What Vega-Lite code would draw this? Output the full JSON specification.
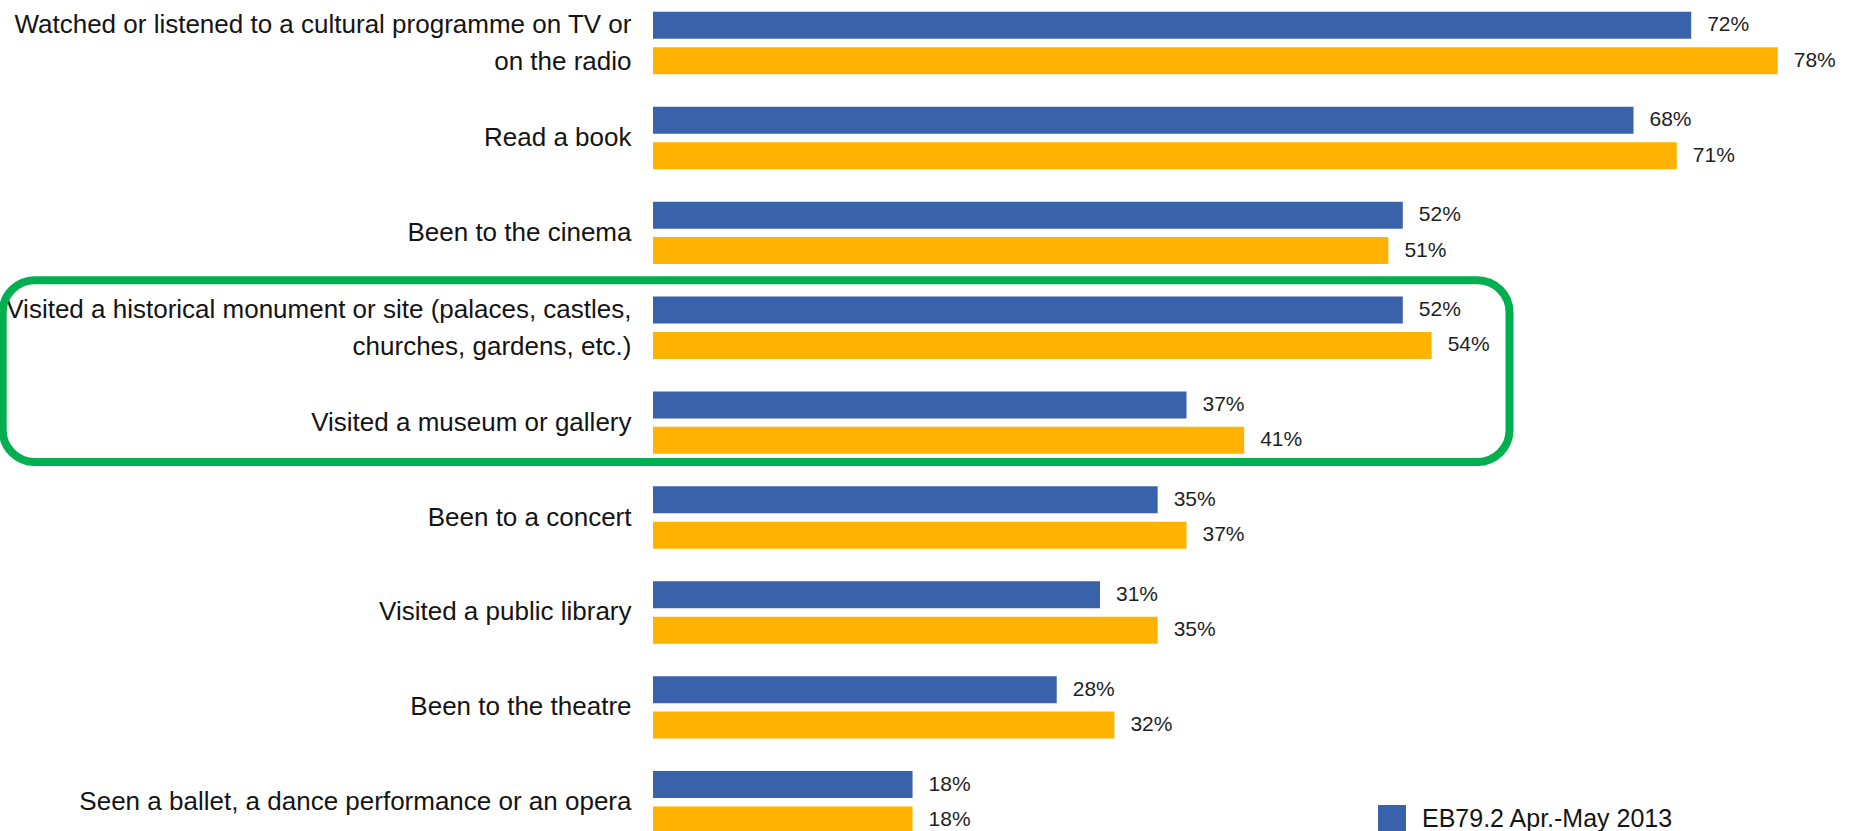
{
  "$schema": "https://vega.github.io/schema/vega-lite/v6.json",
  "autosize": {"type": "none"},
  "padding": {"left": 653, "top": 0, "right": 0, "bottom": 0},
  "width": 1203,
  "height": 831,
  "background": "white",
  "config": {"view": {"stroke": null}, "font": "Liberation Sans"},
  "datasets": {
    "bars": [
      {"activity": "Watched or listened to a cultural programme on TV or|on the radio", "survey": "EB79.2 Apr.-May 2013", "value": 0.72},
      {"activity": "Watched or listened to a cultural programme on TV or|on the radio", "survey": "EB67.1 Feb.-Mar. 2007", "value": 0.78},
      {"activity": "Read a book", "survey": "EB79.2 Apr.-May 2013", "value": 0.68},
      {"activity": "Read a book", "survey": "EB67.1 Feb.-Mar. 2007", "value": 0.71},
      {"activity": "Been to the cinema", "survey": "EB79.2 Apr.-May 2013", "value": 0.52},
      {"activity": "Been to the cinema", "survey": "EB67.1 Feb.-Mar. 2007", "value": 0.51},
      {"activity": "Visited a historical monument or site (palaces, castles,|churches, gardens, etc.)", "survey": "EB79.2 Apr.-May 2013", "value": 0.52},
      {"activity": "Visited a historical monument or site (palaces, castles,|churches, gardens, etc.)", "survey": "EB67.1 Feb.-Mar. 2007", "value": 0.54},
      {"activity": "Visited a museum or gallery", "survey": "EB79.2 Apr.-May 2013", "value": 0.37},
      {"activity": "Visited a museum or gallery", "survey": "EB67.1 Feb.-Mar. 2007", "value": 0.41},
      {"activity": "Been to a concert", "survey": "EB79.2 Apr.-May 2013", "value": 0.35},
      {"activity": "Been to a concert", "survey": "EB67.1 Feb.-Mar. 2007", "value": 0.37},
      {"activity": "Visited a public library", "survey": "EB79.2 Apr.-May 2013", "value": 0.31},
      {"activity": "Visited a public library", "survey": "EB67.1 Feb.-Mar. 2007", "value": 0.35},
      {"activity": "Been to the theatre", "survey": "EB79.2 Apr.-May 2013", "value": 0.28},
      {"activity": "Been to the theatre", "survey": "EB67.1 Feb.-Mar. 2007", "value": 0.32},
      {"activity": "Seen a ballet, a dance performance or an opera", "survey": "EB79.2 Apr.-May 2013", "value": 0.18},
      {"activity": "Seen a ballet, a dance performance or an opera", "survey": "EB67.1 Feb.-Mar. 2007", "value": 0.18}
    ],
    "box": [
      {"first": "Visited a historical monument or site (palaces, castles,|churches, gardens, etc.)", "last": "Visited a museum or gallery", "x_start": -0.451, "x_end": 0.594}
    ]
  },
  "layer": [
    {
      "data": {"name": "bars"},
      "mark": {"type": "bar"},
      "encoding": {
        "y": {
          "field": "activity", "type": "nominal", "sort": null,
          "scale": {
            "domain": [
              "Watched or listened to a cultural programme on TV or|on the radio",
              "Read a book",
              "Been to the cinema",
              "Visited a historical monument or site (palaces, castles,|churches, gardens, etc.)",
              "Visited a museum or gallery",
              "Been to a concert",
              "Visited a public library",
              "Been to the theatre",
              "Seen a ballet, a dance performance or an opera"
            ],
            "range": [-4.4, 849.7], "paddingInner": 0, "paddingOuter": 0
          },
          "axis": {
            "title": null, "domain": false, "ticks": false,
            "labelExpr": "split(datum.label, '|')",
            "labelFont": "Liberation Sans", "labelFontSize": 26,
            "labelColor": "#141414", "labelLimit": 700, "labelPadding": 22,
            "labelLineHeight": 37, "labelAlign": "right", "labelBaseline": "middle",
            "labelOffset": {"condition": {"test": "indexof(datum.value, '|') >= 0", "value": -18}, "value": 0}
          }
        },
        "yOffset": {
          "field": "survey", "type": "nominal", "sort": ["EB79.2 Apr.-May 2013", "EB67.1 Feb.-Mar. 2007"],
          "scale": {"paddingInner": 0.237, "paddingOuter": 0.459}
        },
        "x": {
          "field": "value", "type": "quantitative",
          "scale": {"domain": [0, 0.8343], "nice": false, "zero": true},
          "axis": null
        },
        "color": {
          "field": "survey", "type": "nominal",
          "scale": {"domain": ["EB79.2 Apr.-May 2013", "EB67.1 Feb.-Mar. 2007"], "range": ["#3A62AA", "#FFB300"]},
          "legend": {
            "orient": "none", "legendX": 725, "legendY": 805, "title": null,
            "symbolType": "square", "symbolSize": 784, "symbolStrokeWidth": 0, "symbolOpacity": 1,
            "labelFont": "Liberation Sans", "labelFontSize": 25, "labelColor": "#141414",
            "labelOffset": 16, "padding": 0, "rowPadding": 10, "labelLimit": 600
          }
        }
      }
    },
    {
      "data": {"name": "bars"},
      "mark": {"type": "text", "align": "left", "baseline": "middle", "dx": 16, "font": "Liberation Sans", "fontSize": 21, "color": "#1e1e1e"},
      "encoding": {
        "y": {"field": "activity", "type": "nominal", "sort": null},
        "yOffset": {"field": "survey", "type": "nominal", "sort": ["EB79.2 Apr.-May 2013", "EB67.1 Feb.-Mar. 2007"]},
        "x": {"field": "value", "type": "quantitative"},
        "text": {"field": "value", "type": "quantitative", "format": ".0%"}
      }
    },
    {
      "data": {"name": "box"},
      "mark": {"type": "rect", "filled": false, "fill": null, "stroke": "#00B050", "strokeWidth": 8, "cornerRadius": 32},
      "encoding": {
        "y": {"field": "first", "type": "nominal", "bandPosition": 0},
        "y2": {"field": "last", "bandPosition": 0.915},
        "x": {"field": "x_start", "type": "quantitative"},
        "x2": {"field": "x_end"}
      }
    }
  ]
}
